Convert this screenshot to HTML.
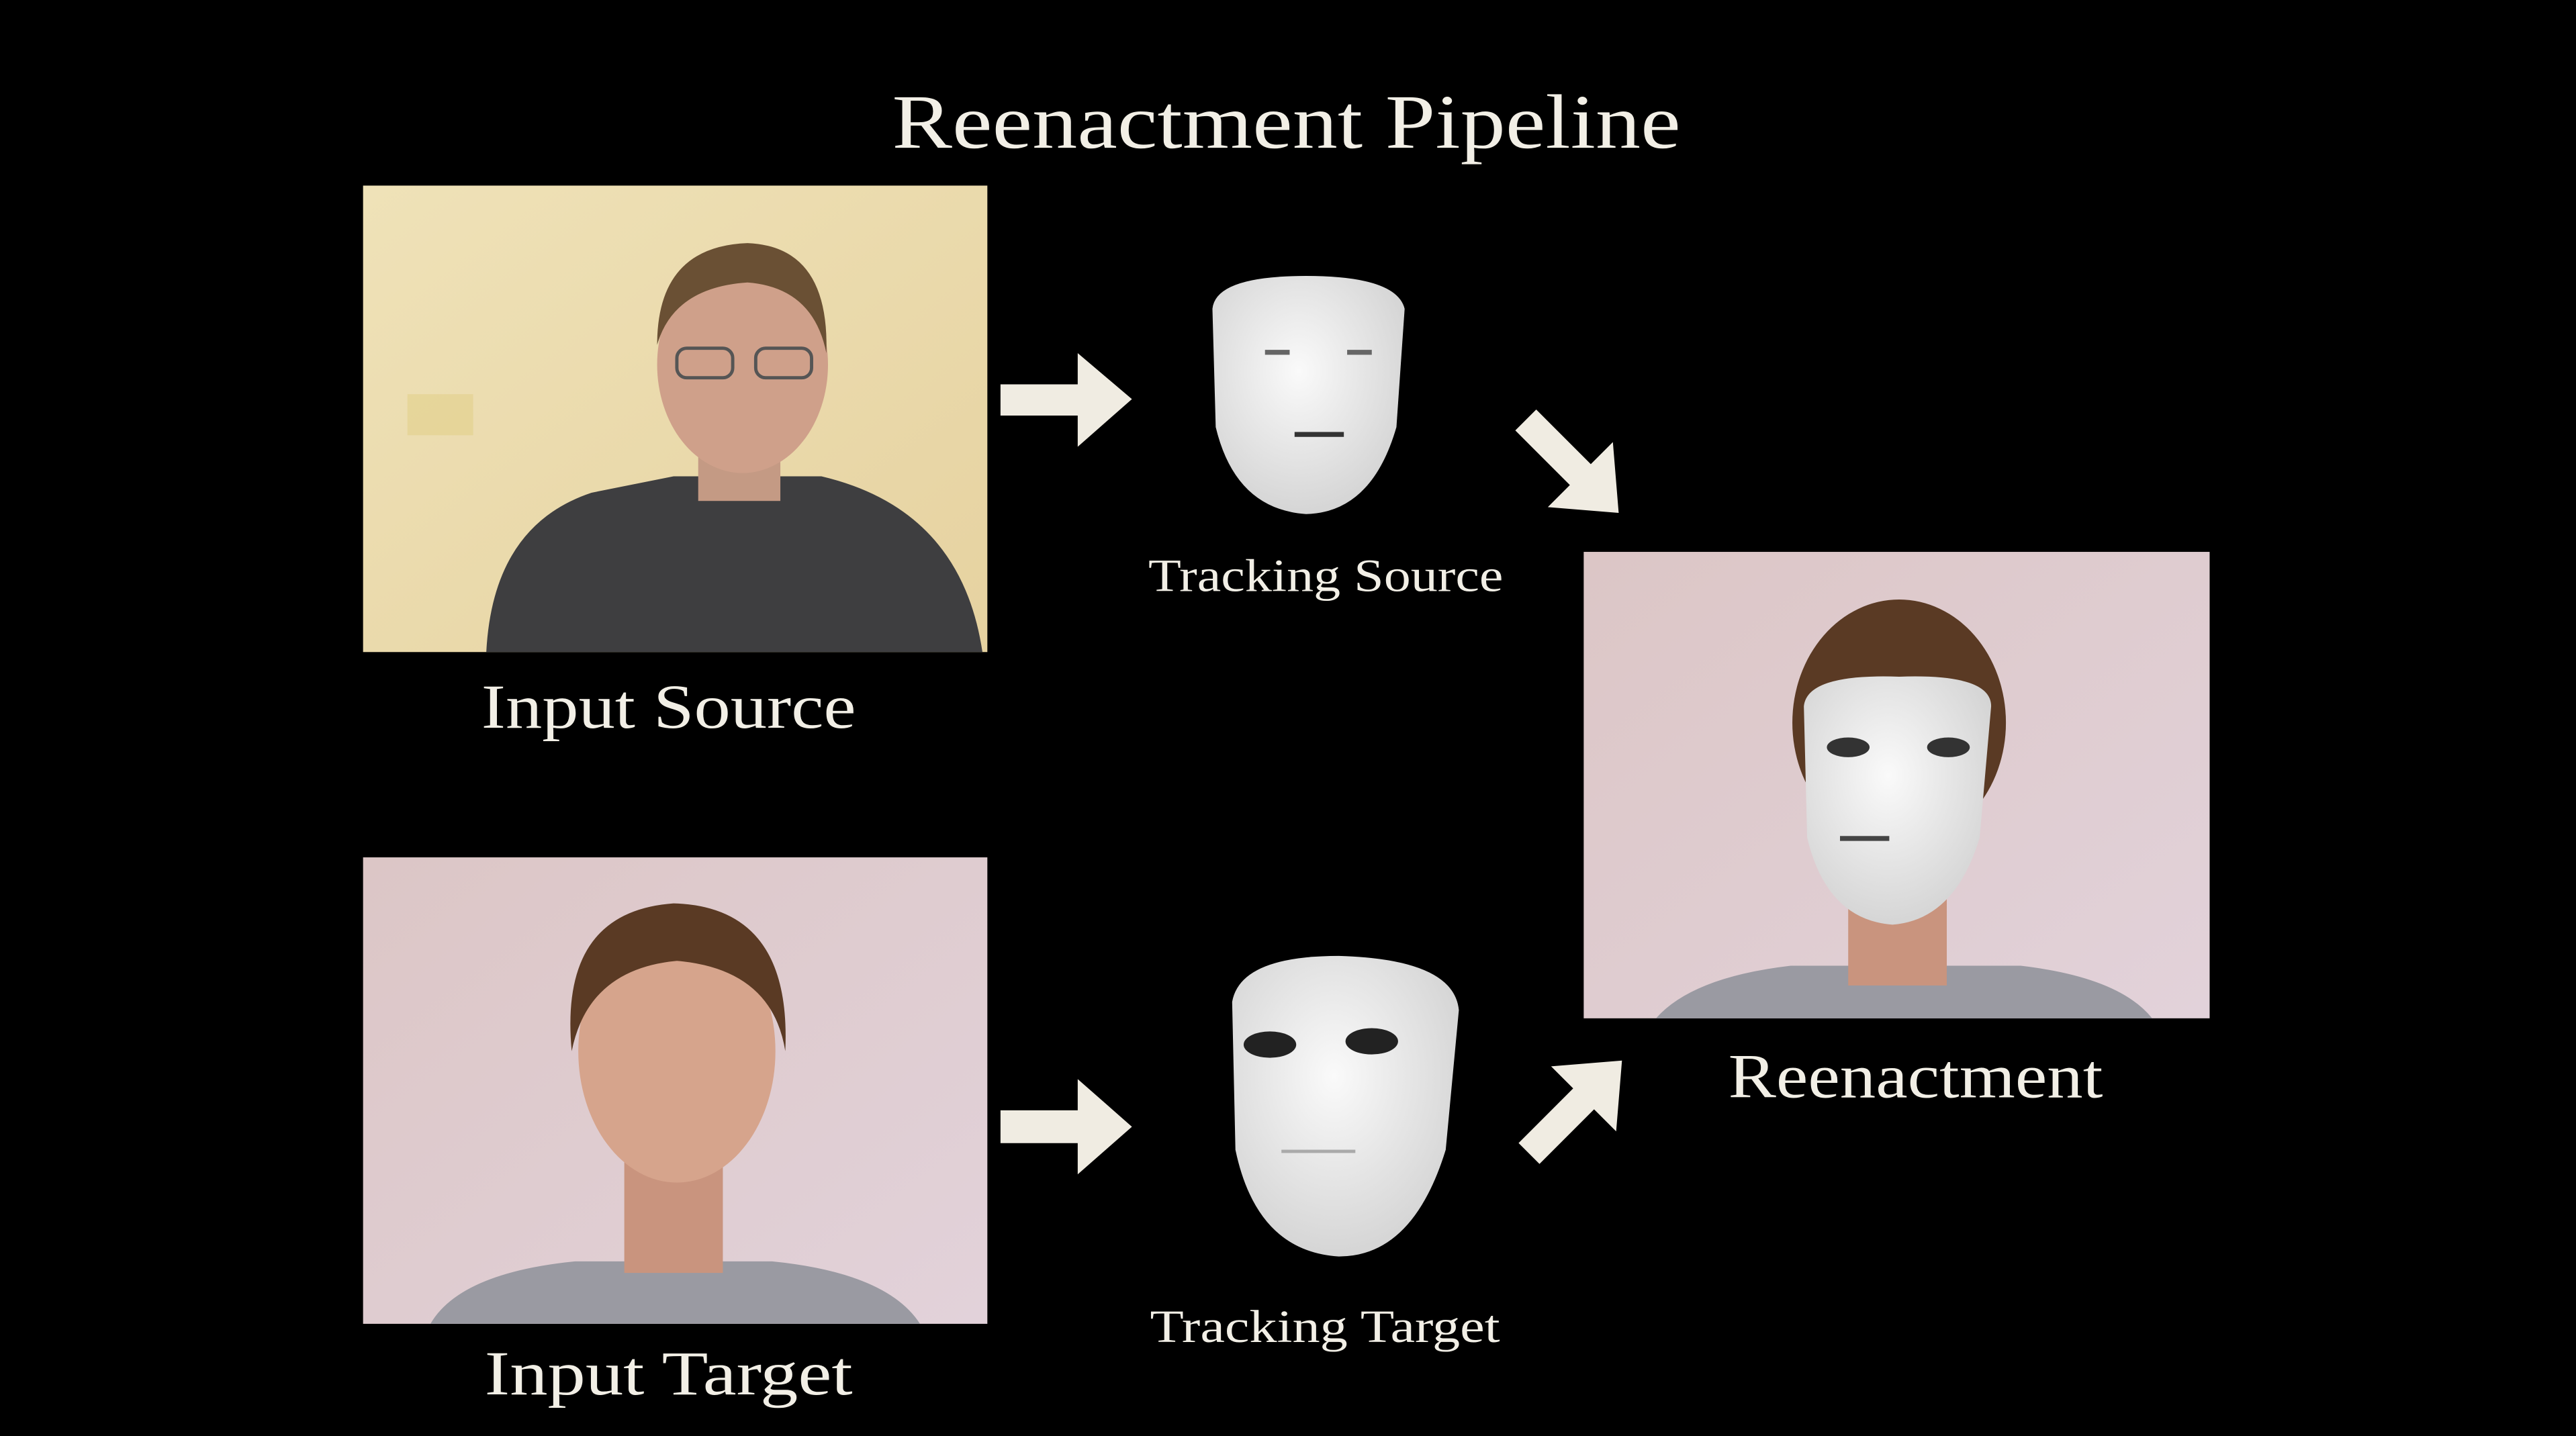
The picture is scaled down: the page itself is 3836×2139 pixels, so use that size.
<!DOCTYPE html>
<html><head><meta charset="utf-8"><style>
html,body{margin:0;padding:0;background:#000;width:3836px;height:2139px;overflow:hidden}
svg{display:block}
text{font-family:"Liberation Serif",serif;fill:#f2efe6}
</style></head><body>
<svg width="3836" height="2139" viewBox="0 0 1568 874.3" preserveAspectRatio="none" xmlns="http://www.w3.org/2000/svg">
<defs>
<linearGradient id="ys" x1="0" y1="0" x2="1" y2="1"><stop offset="0" stop-color="#efe2b8"/><stop offset="1" stop-color="#e6d2a0"/></linearGradient>
<linearGradient id="pk" x1="0" y1="0" x2="1" y2="1"><stop offset="0" stop-color="#dcc6c6"/><stop offset="1" stop-color="#e2d2da"/></linearGradient>
<radialGradient id="mk" cx="0.45" cy="0.4" r="0.7"><stop offset="0" stop-color="#fafafa"/><stop offset="1" stop-color="#cfcfcf"/></radialGradient>
</defs>
<rect width="1568" height="874.3" fill="#000"/>
<text x="543" y="90" font-size="47" textLength="480" lengthAdjust="spacingAndGlyphs">Reenactment Pipeline</text>

<!-- Input Source -->
<rect x="221" y="113" width="380" height="284" fill="url(#ys)"/>
<rect x="248" y="240" width="40" height="25" fill="#e3d08a" opacity="0.6"/>
<path d="M296 397 Q300 320 360 300 L410 290 L500 290 Q585 310 598 397 Z" fill="#3e3e40"/>
<rect x="425" y="270" width="50" height="35" fill="#c49a84"/>
<ellipse cx="452" cy="222" rx="52" ry="66" fill="#cfa08a"/>
<path d="M400 210 Q400 150 455 148 Q505 150 503 215 Q495 175 455 172 Q410 175 400 210 Z" fill="#6a5034"/>
<rect x="412" y="212" width="34" height="18" rx="6" fill="none" stroke="#555" stroke-width="2"/>
<rect x="460" y="212" width="34" height="18" rx="6" fill="none" stroke="#555" stroke-width="2"/>
<text x="293" y="443" font-size="38" textLength="228" lengthAdjust="spacingAndGlyphs">Input Source</text>

<!-- Input Target -->
<rect x="221" y="522" width="380" height="284" fill="url(#pk)"/>
<path d="M262 806 Q280 775 350 768 L470 768 Q540 775 560 806 Z" fill="#9a9aa2"/>
<rect x="380" y="700" width="60" height="75" fill="#c9947e"/>
<ellipse cx="412" cy="640" rx="60" ry="80" fill="#d6a48c"/>
<path d="M348 640 Q340 555 410 550 Q482 552 478 640 Q470 590 412 585 Q358 590 348 640 Z" fill="#5a3a24"/>
<text x="295" y="849" font-size="38" textLength="224" lengthAdjust="spacingAndGlyphs">Input Target</text>

<!-- Reenactment -->
<rect x="964" y="336" width="381" height="284" fill="url(#pk)"/>
<path d="M1008 620 Q1030 595 1090 588 L1230 588 Q1290 595 1310 620 Z" fill="#9a9aa2"/>
<rect x="1125" y="540" width="60" height="60" fill="#c9947e"/>
<ellipse cx="1156" cy="440" rx="65" ry="75" fill="#5a3a24"/>
<path d="M1098 430 Q1100 410 1156 412 Q1212 410 1212 430 L1205 510 Q1190 560 1152 563 Q1112 560 1100 510 Z" fill="url(#mk)"/>
<ellipse cx="1125" cy="455" rx="13" ry="6" fill="#333"/>
<ellipse cx="1186" cy="455" rx="13" ry="6" fill="#333"/>
<rect x="1120" y="509" width="30" height="3" fill="#444"/>
<text x="1052" y="668" font-size="38" textLength="228" lengthAdjust="spacingAndGlyphs">Reenactment</text>

<!-- Tracking Source mask -->
<path d="M738 188 Q740 168 795 168 Q850 168 855 188 L850 260 Q835 312 795 313 Q752 310 740 260 Z" fill="url(#mk)"/>
<rect x="770" y="213" width="15" height="3" fill="#666"/>
<rect x="820" y="213" width="15" height="3" fill="#666"/>
<rect x="788" y="263" width="30" height="3" fill="#333"/>
<text x="699" y="360" font-size="28" textLength="216" lengthAdjust="spacingAndGlyphs">Tracking Source</text>

<!-- Tracking Target mask -->
<path d="M750 610 Q755 582 815 582 Q885 584 888 615 L880 700 Q860 765 815 765 Q765 762 752 700 Z" fill="url(#mk)"/>
<ellipse cx="773" cy="636" rx="16" ry="8" fill="#222"/>
<ellipse cx="835" cy="634" rx="16" ry="8" fill="#222"/>
<rect x="780" y="700" width="45" height="2" fill="#aaa"/>
<text x="700" y="817" font-size="28" textLength="213" lengthAdjust="spacingAndGlyphs">Tracking Target</text>

<!-- Arrows -->
<g fill="#f0ece2">
<polygon points="609,234 656,234 656,215 689,243 656,272 656,253 609,253"/>
<polygon points="609,676 656,676 656,657 689,686 656,715 656,696 609,696"/>
<g transform="translate(957,284) rotate(45)"><polygon points="-40,-9 7,-9 7,-28 40,0 7,28 7,9 -40,9"/></g>
<g transform="translate(959,674) rotate(-45)"><polygon points="-40,-9 7,-9 7,-28 40,0 7,28 7,9 -40,9"/></g>
</g>
</svg>
</body></html>
